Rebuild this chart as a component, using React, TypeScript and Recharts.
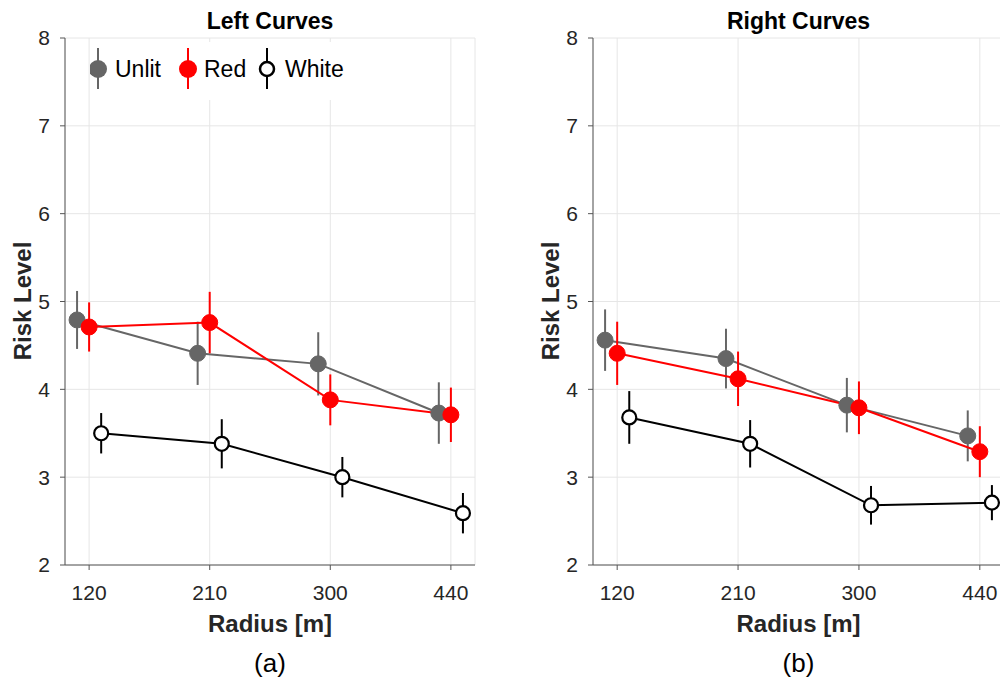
import React from 'react';
import { LineChart, Line, XAxis, YAxis, CartesianGrid, ErrorBar, Label } from 'recharts';

const radii = ['120', '210', '300', '440'];
const positions = [1, 2, 3, 4];
const riskTicks = [2, 3, 4, 5, 6, 7, 8];

// Left curves
const leftUnlit = [4.79, 4.41, 4.29, 3.73];
const leftUnlitErr = [0.33, 0.36, 0.36, 0.35];
const leftRed = [4.71, 4.76, 3.88, 3.71];
const leftRedErr = [0.28, 0.35, 0.29, 0.31];
const leftWhite = [3.5, 3.38, 3.0, 2.59];
const leftWhiteErr = [0.23, 0.28, 0.23, 0.23];

// Right curves
const rightUnlit = [4.56, 4.35, 3.82, 3.47];
const rightUnlitErr = [0.35, 0.34, 0.31, 0.29];
const rightRed = [4.41, 4.12, 3.79, 3.29];
const rightRedErr = [0.36, 0.31, 0.3, 0.29];
const rightWhite = [3.68, 3.38, 2.68, 2.71];
const rightWhiteErr = [0.3, 0.27, 0.22, 0.2];

const seriesStyle = [
  { name: 'Unlit', color: '#666666', fill: '#666666', offset: -0.1 },
  { name: 'Red', color: '#ff0000', fill: '#ff0000', offset: 0 },
  { name: 'White', color: '#000000', fill: '#ffffff', offset: 0.1 },
];

const TEXT = '#262626';
const AXIS = '#555555';

const toPoints = (values: number[], errs: number[], offset: number) =>
  values.map((v, i) => ({ x: positions[i] + offset, y: v, err: errs[i] }));

type PanelProps = {
  title: string;
  caption: string;
  left: number;
  width: number;
  marginLeft: number;
  marginRight: number;
  values: number[][];
  errors: number[][];
  legend?: boolean;
};

const Panel: React.FC<PanelProps> = ({ title, caption, left, width, marginLeft, marginRight, values, errors, legend }) => {
  const plotLeft = marginLeft + 40;
  const plotCenter = plotLeft + (width - marginRight - plotLeft) / 2;

  return (
    <div style={{ position: 'absolute', left, top: 0, width, height: 679 }}>
      <LineChart width={width} height={679} margin={{ top: 38, right: marginRight, bottom: 84, left: marginLeft }}>
        <CartesianGrid stroke="#e6e6e6" />
        <XAxis
          type="number"
          dataKey="x"
          domain={[0.8, 4.2]}
          ticks={positions}
          allowDataOverflow
          tickFormatter={(v: number) => radii[v - 1]}
          tick={{ fontSize: 21, fill: TEXT }}
          tickLine={{ stroke: AXIS }}
          axisLine={{ stroke: AXIS }}
          tickSize={5}
          tickMargin={15}
          height={30}
        >
          <Label
            content={() => (
              <text x={plotCenter} y={632} textAnchor="middle" fontSize={24} fontWeight="bold" fill={TEXT}>
                Radius [m]
              </text>
            )}
          />
        </XAxis>
        <YAxis
          type="number"
          domain={[2, 8]}
          ticks={riskTicks}
          tick={{ fontSize: 21, fill: TEXT }}
          tickLine={{ stroke: AXIS }}
          axisLine={{ stroke: AXIS }}
          tickSize={5}
          tickMargin={10}
          width={40}
        >
          <Label
            content={() => (
              <text
                x={marginLeft - 3}
                y={301}
                transform={`rotate(-90, ${marginLeft - 3}, 301)`}
                textAnchor="middle"
                dominantBaseline="central"
                fontSize={24}
                fontWeight="bold"
                fill={TEXT}
              >
                Risk Level
              </text>
            )}
          />
        </YAxis>
        {seriesStyle.map((s, k) => (
          <Line
            key={s.name}
            data={toPoints(values[k], errors[k], s.offset)}
            dataKey="y"
            name={s.name}
            stroke={s.color}
            strokeWidth={2}
            dot={{ r: s.name === 'White' ? 7 : 8, fill: s.fill, stroke: s.color, strokeWidth: s.name === 'White' ? 2.2 : 1, fillOpacity: 1 }}
            activeDot={false}
            isAnimationActive={false}
          >
            <ErrorBar dataKey="err" direction="y" width={0} stroke={s.color} strokeWidth={2} />
          </Line>
        ))}
      </LineChart>
      <div
        style={{
          position: 'absolute', left: plotCenter - 150, width: 300, top: 8,
          textAlign: 'center', fontSize: 23, fontWeight: 'bold', color: '#000', lineHeight: '26px',
        }}
      >
        {title}
      </div>
      <div
        style={{
          position: 'absolute', left: plotCenter - 50, width: 100, top: 648,
          textAlign: 'center', fontSize: 26, color: '#000', lineHeight: '30px',
        }}
      >
        {caption}
      </div>
      {legend && (
        <svg style={{ position: 'absolute', left: 90, top: 40 }} width={262} height={60}>
          <rect x={0} y={2} width={262} height={58} fill="#ffffff" />
          {seriesStyle.map((s, k) => {
            const cx = [8, 98, 177][k];
            const tx = [25, 114, 195][k];
            return (
              <g key={s.name}>
                <line x1={cx} x2={cx} y1={8} y2={49} stroke={s.color} strokeWidth={2} />
                <circle cx={cx} cy={29} r={s.name === 'White' ? 7 : 9} fill={s.fill} stroke={s.color} strokeWidth={s.name === 'White' ? 2.5 : 0} />
                <text x={tx} y={29} dominantBaseline="central" fontSize={23} fill="#000">
                  {s.name}
                </text>
              </g>
            );
          })}
        </svg>
      )}
    </div>
  );
};

export default function App() {
  return (
    <div
      style={{
        position: 'fixed', left: 0, top: 0, width: 1000, height: 679, overflow: 'hidden',
        background: '#ffffff', fontFamily: '"Liberation Sans", Arial, sans-serif',
      }}
    >
      <Panel
        title="Left Curves"
        caption="(a)"
        left={0}
        width={500}
        marginLeft={25}
        marginRight={25}
        values={[leftUnlit, leftRed, leftWhite]}
        errors={[leftUnlitErr, leftRedErr, leftWhiteErr]}
        legend
      />
      <Panel
        title="Right Curves"
        caption="(b)"
        left={500}
        width={510}
        marginLeft={53}
        marginRight={6}
        values={[rightUnlit, rightRed, rightWhite]}
        errors={[rightUnlitErr, rightRedErr, rightWhiteErr]}
      />
    </div>
  );
}
